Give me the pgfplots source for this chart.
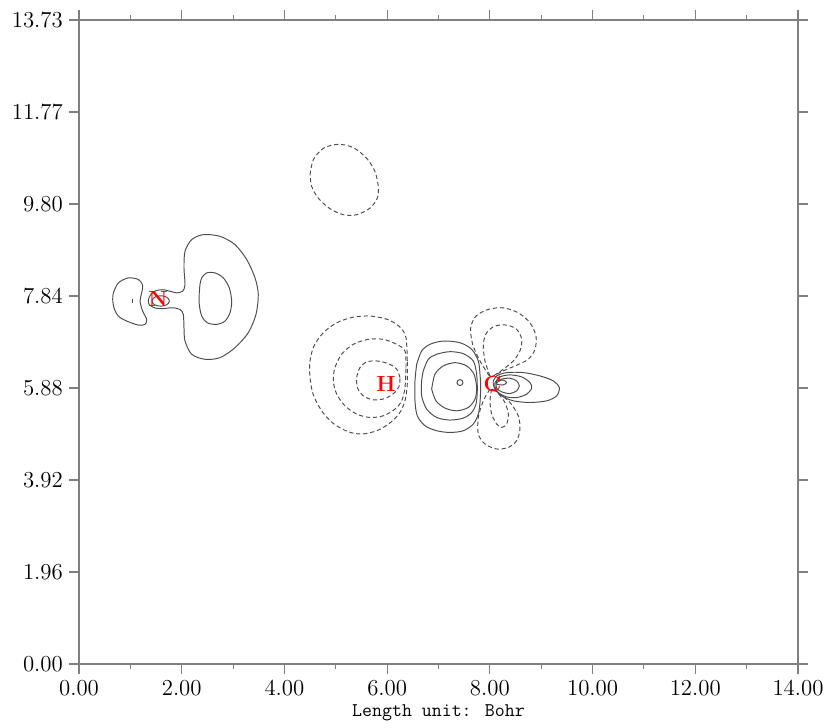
\documentclass[border=0pt]{standalone}
\usepackage{pgfplots}
\pgfplotsset{compat=1.18}
\begin{document}
\begin{tikzpicture}
\pgfplotsset{
  pos/.style={black!70, line width=0.55pt, smooth, no markers},
  neg/.style={black!70, line width=0.55pt, smooth, no markers, dash pattern=on 2.4pt off 1.6pt},
}
\tikzset{atom/.style={text=red, font=\bfseries\fontsize{12.5}{13}\selectfont, inner sep=0pt}}
\begin{axis}[
  scale only axis, width=14.38cm, height=12.88cm,
  xmin=0, xmax=14, ymin=0, ymax=13.73,
  xtick={0,2,4,6,8,10,12,14},
  xticklabels={0.00,2.00,4.00,6.00,8.00,10.00,12.00,14.00},
  ytick={0,1.961,3.923,5.884,7.846,9.807,11.769,13.73},
  yticklabels={0.00,1.96,3.92,5.88,7.84,9.80,11.77,13.73},
  minor tick num=1,
  tick align=outside,
  major tick length=0.2cm, minor tick length=0.1cm,
  axis line style={black!50, line width=0.6pt},
  every tick/.style={black!50, line width=0.6pt},
  tick label style={font=\fontsize{13}{15}\selectfont},
  xlabel={Length unit: Bohr},
  xlabel style={font=\ttfamily\fontsize{11}{13}\selectfont, yshift=0.06cm},
  clip=false,
]
% N region
\addplot[pos] coordinates {(0.668,7.913) (0.765,8.125) (0.960,8.232) (1.155,8.198) (1.240,8.076) (1.221,7.913) (1.188,7.736) (1.240,7.524) (1.318,7.347) (1.285,7.241) (1.155,7.226) (0.929,7.311) (0.765,7.418) (0.681,7.594) (0.656,7.772) (0.668,7.913)};
\addplot[pos] coordinates {(1.038,7.70) (1.038,7.78)};
\addplot[pos] coordinates {(1.76,7.74) (1.737,7.795) (1.675,7.835) (1.59,7.85) (1.505,7.835) (1.443,7.795) (1.42,7.74) (1.443,7.685) (1.505,7.645) (1.59,7.63) (1.675,7.645) (1.737,7.685) (1.76,7.74)};
\addplot[pos] coordinates {(1.772,7.949) (1.902,7.913) (2.019,7.949) (2.064,8.091) (2.044,8.444) (2.064,8.799) (2.194,9.048) (2.420,9.154) (2.745,9.118) (3.037,8.941) (3.265,8.623) (3.427,8.232) (3.491,7.879) (3.446,7.454) (3.296,7.063) (3.037,6.744) (2.745,6.531) (2.453,6.497) (2.194,6.604) (2.064,6.886) (2.044,7.169) (2.031,7.454) (1.966,7.560) (1.836,7.594) (1.772,7.594) (1.635,7.577) (1.48,7.59) (1.37,7.66) (1.35,7.76) (1.40,7.88) (1.50,7.96) (1.635,7.98) (1.72,7.96) (1.772,7.949)};
\addplot[pos] coordinates {(2.356,8.091) (2.389,8.232) (2.486,8.338) (2.648,8.338) (2.810,8.232) (2.926,8.019) (2.973,7.736) (2.940,7.488) (2.843,7.311) (2.681,7.241) (2.498,7.275) (2.389,7.418) (2.342,7.666) (2.342,7.913) (2.356,8.091)};
% isolated negative lobe
\addplot[neg] coordinates {(4.498,10.429) (4.562,10.748) (4.757,10.995) (5.049,11.080) (5.341,11.010) (5.602,10.782) (5.763,10.499) (5.827,10.181) (5.808,9.932) (5.666,9.720) (5.407,9.579) (5.146,9.579) (4.887,9.707) (4.659,9.932) (4.531,10.181) (4.498,10.429)};
% H region
\addplot[neg] coordinates {(6.392,6.461) (6.367,6.957) (6.250,7.184) (6.003,7.347) (5.680,7.418) (5.341,7.396) (5.018,7.275) (4.757,7.063) (4.575,6.780) (4.498,6.461) (4.498,6.106) (4.562,5.739) (4.725,5.398) (4.951,5.129) (5.243,4.952) (5.504,4.903) (5.796,4.973) (6.042,5.129) (6.236,5.341) (6.347,5.611) (6.392,5.966) (6.392,6.461)};
\addplot[neg] coordinates {(6.367,6.319) (6.347,6.674) (6.186,6.816) (5.925,6.922) (5.633,6.922) (5.341,6.816) (5.115,6.604) (4.984,6.319) (4.951,6.036) (5.018,5.753) (5.179,5.505) (5.407,5.328) (5.666,5.256) (5.925,5.292) (6.153,5.435) (6.283,5.611) (6.347,5.894) (6.367,6.319)};
\addplot[neg] coordinates {(6.250,6.106) (6.186,6.285) (6.022,6.404) (5.796,6.461) (5.602,6.440) (5.471,6.319) (5.407,6.106) (5.426,5.881) (5.535,5.717) (5.730,5.632) (5.958,5.660) (6.133,5.775) (6.236,5.930) (6.250,6.106)};
% positive lobe between H and C
\addplot[pos] coordinates {(6.575,6.391) (6.672,6.674) (6.834,6.816) (7.093,6.886) (7.418,6.850) (7.646,6.710) (7.775,6.461) (7.808,6.178) (7.821,5.894) (7.808,5.575) (7.775,5.328) (7.677,5.116) (7.483,4.973) (7.224,4.937) (6.965,4.973) (6.737,5.080) (6.587,5.292) (6.542,5.611) (6.542,6.036) (6.575,6.391)};
\addplot[pos] coordinates {(6.704,6.249) (6.801,6.497) (6.965,6.604) (7.224,6.659) (7.483,6.616) (7.677,6.461) (7.743,6.178) (7.755,5.824) (7.730,5.541) (7.646,5.362) (7.483,5.243) (7.224,5.201) (6.965,5.256) (6.770,5.435) (6.672,5.717) (6.672,6.036) (6.704,6.249)};
\addplot[pos] coordinates {(6.867,5.860) (6.931,6.178) (7.093,6.355) (7.321,6.425) (7.549,6.355) (7.691,6.178) (7.743,5.894) (7.710,5.647) (7.580,5.469) (7.354,5.398) (7.126,5.456) (6.951,5.611) (6.867,5.860)};
\addplot[pos] coordinates {(7.476,6.0) (7.459,6.045) (7.418,6.064) (7.377,6.045) (7.360,6.0) (7.377,5.955) (7.418,5.936) (7.459,5.955) (7.476,6.0)};
% C region
\addplot[neg] coordinates {(7.989,6.142) (7.808,6.461) (7.665,6.816) (7.627,7.169) (7.730,7.418) (7.969,7.560) (8.261,7.594) (8.553,7.488) (8.781,7.275) (8.898,6.993) (8.879,6.710) (8.748,6.497) (8.489,6.355) (8.230,6.234) (8.035,6.121) (7.989,6.142)};
\addplot[neg] coordinates {(8.002,6.142) (7.905,6.461) (7.872,6.816) (7.938,7.063) (8.100,7.205) (8.327,7.226) (8.522,7.135) (8.620,6.922) (8.586,6.674) (8.456,6.461) (8.261,6.285) (8.067,6.142) (8.002,6.142)};
\addplot[neg] coordinates {(8.002,5.860) (7.872,5.611) (7.775,5.256) (7.775,4.903) (7.905,4.691) (8.133,4.584) (8.359,4.618) (8.522,4.761) (8.586,5.010) (8.553,5.292) (8.392,5.575) (8.197,5.753) (8.035,5.860) (8.002,5.860)};
\addplot[neg] coordinates {(8.035,5.860) (8.002,5.611) (8.035,5.328) (8.133,5.116) (8.230,5.044) (8.327,5.116) (8.359,5.328) (8.294,5.575) (8.164,5.766) (8.074,5.860) (8.035,5.860)};
\addplot[pos] coordinates {(8.067,6.036) (8.133,6.142) (8.327,6.213) (8.651,6.213) (8.976,6.142) (9.235,6.036) (9.352,5.894) (9.301,5.717) (9.106,5.611) (8.781,5.575) (8.456,5.611) (8.230,5.717) (8.100,5.860) (8.067,5.966) (8.067,6.036)};
\addplot[pos] coordinates {(8.100,6.000) (8.197,6.121) (8.392,6.164) (8.620,6.121) (8.781,6.000) (8.814,5.881) (8.717,5.753) (8.522,5.681) (8.327,5.696) (8.164,5.787) (8.100,5.909) (8.100,6.000)};
\addplot[pos] coordinates {(8.119,5.979) (8.230,6.072) (8.392,6.093) (8.522,6.036) (8.573,5.930) (8.522,5.824) (8.392,5.766) (8.230,5.802) (8.133,5.881) (8.119,5.979)};
\addplot[pos] coordinates {(8.133,6.036) (8.261,6.051) (8.327,6.000) (8.261,5.951) (8.133,5.966) (8.133,6.036)};
% atom labels
\node[atom] at (axis cs:1.538,7.78) {N};
\node[atom] at (axis cs:5.977,5.97) {H};
\node[atom] at (axis cs:8.051,5.97) {C};
\coordinate (bbsw) at (rel axis cs:-0.1099,-0.0792);
\coordinate (bbne) at (rel axis cs:1.0459,1.0311);
\end{axis}
\path (bbsw) rectangle (bbne);
\end{tikzpicture}
\end{document}
